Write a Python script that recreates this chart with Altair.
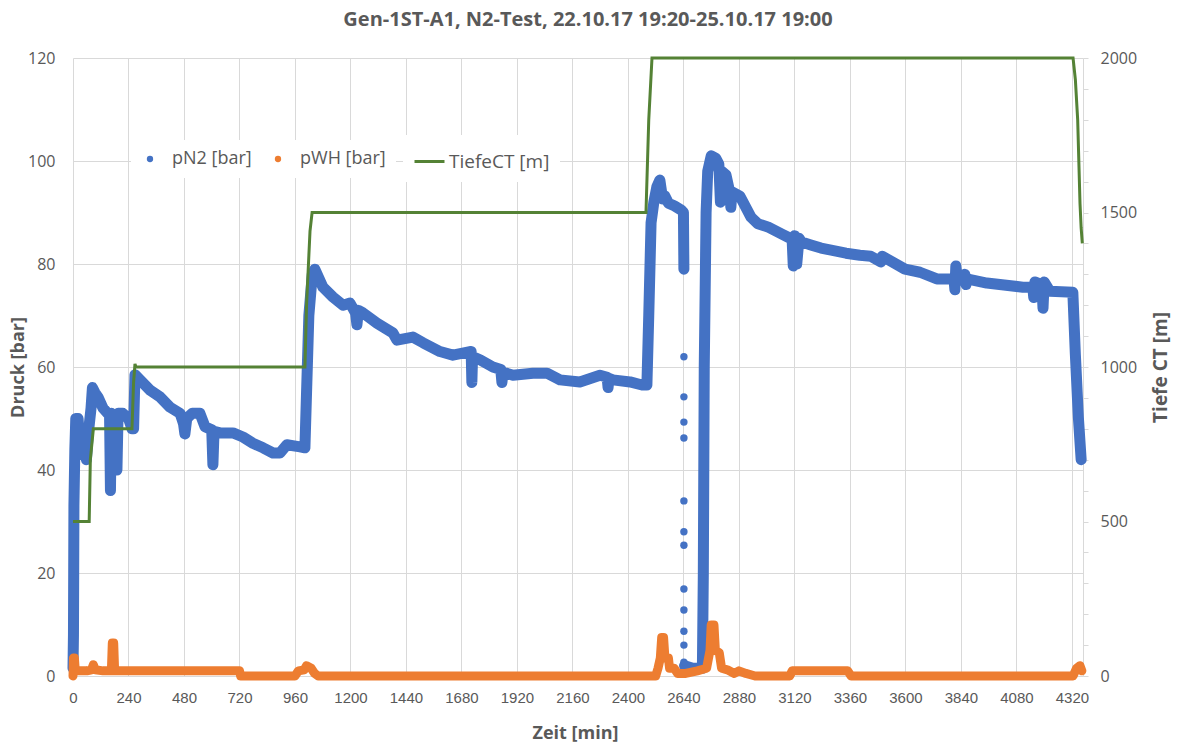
import altair as alt
import pandas as pd

BLUE = "#4472C4"
ORANGE = "#ED7D31"
GREEN = "#548235"
GRID = "#D9D9D9"
TXT = "#595959"

# pN2 [bar] - first continuous stretch (time in min, pressure in bar)
pn2a_t = [0, 2, 3, 4, 8, 12, 22, 28, 35, 42, 50, 58, 66, 78, 84, 95, 110, 130, 150, 158, 162, 166,
          185, 190, 195, 215, 240, 255, 262, 268, 290, 333, 376, 419, 463, 478, 484, 492, 515, 549,
          571, 600, 605, 610, 636, 692, 735, 778, 822, 865, 895, 925, 982, 1003, 1010, 1020, 1035,
          1046, 1081, 1124, 1168, 1198, 1222, 1228, 1234, 1254, 1315, 1384, 1401, 1470, 1514, 1587,
          1643, 1717, 1722, 1725, 1728, 1760, 1816, 1850, 1855, 1860, 1903, 1989, 2050, 2106, 2192,
          2279, 2310, 2314, 2318, 2335, 2409, 2461, 2482, 2490, 2500, 2512, 2525, 2538, 2550, 2560,
          2575, 2600, 2630, 2640, 2642]
pn2a_v = [1.5, 8, 20, 33, 44, 50, 50, 46, 43, 47, 44, 42, 47, 52, 56, 55, 54, 52, 51, 51, 36, 51,
          50, 40, 51, 51, 50, 48, 48, 58.5, 57.5, 55.5, 54.2, 52.2, 51, 49, 47, 50, 51, 51,
          48.4, 47.8, 41, 47.5, 47.2, 47.2, 46.4, 45.2, 44.3, 43.3, 43.3, 44.9, 44.5, 44.3, 55, 70, 78,
          79, 75.5, 73.6, 72, 72.4, 70.5, 68.2, 71, 70.5, 68.5, 66.6, 65.2, 65.8, 64.7, 63,
          62.3, 63, 63, 57, 62, 61.4, 60, 59.5, 57, 59, 58.4, 58.8, 58.8, 57.5, 57.1,
          58.4, 58, 56, 57.8, 57.5, 57.1, 56.5, 56.5, 70, 88, 92, 95, 96.3, 92.6, 93.2,
          91.8, 91.3, 90.5, 90, 79]

# pN2 [bar] - second continuous stretch
pn2b_t = [2645, 2680, 2722, 2726, 2730, 2738, 2745, 2760, 2780, 2793, 2800, 2806, 2824, 2840, 2845,
          2850, 2884, 2932, 2962, 3005, 3066, 3110, 3115, 3120, 3130, 3140, 3150, 3191, 3235, 3343,
          3403, 3450, 3494, 3500, 3598, 3663, 3736, 3810, 3814, 3818, 3825, 3857, 3862, 3866, 3952,
          4108, 4151, 4155, 4160, 4190, 4195, 4200, 4225, 4324, 4335, 4348, 4360]
pn2b_v = [2, 1.5, 1.5, 20, 60, 90, 98, 101, 100.5, 99.4, 92, 98, 97.3, 94, 91,
          94, 93.2, 89.1, 87.8, 87.2, 85.8, 84.8, 79.6, 85.5, 80, 85, 84.3, 83.7, 83.1, 82.1,
          81.7, 81.5, 80.4, 81.5, 79, 78.4, 77.1, 77.1, 75, 79.6, 77, 78, 76, 77.1, 76.3,
          75.5, 75.5, 73.5, 76.5, 76, 71.4, 76.5, 74.7, 74.5, 62.4, 50.2, 42]

# pN2 [bar] - isolated readings during the pressure drop near 2642 min
dots_t = [2642, 2642, 2642, 2642, 2642, 2642, 2642, 2642, 2642, 2642, 2642, 2642]
dots_v = [62, 54.2, 49.3, 46.2, 34, 28, 25.4, 16.9, 12.8, 8.7, 6, 2.7]

# pWH [bar]
pwh_t = [0, 2, 6, 10, 60, 80, 88, 96, 130, 166, 170, 176, 180, 240, 720, 725, 960, 975, 1000, 1010,
         1030, 1045, 1060, 2520, 2530, 2540, 2546, 2554, 2560, 2575, 2580, 2600, 2615, 2650, 2700,
         2740, 2755, 2760, 2772, 2778, 2795, 2805, 2830, 2860, 2880, 2910, 2950, 3100, 3110, 3350,
         3365, 4325, 4340, 4355, 4363]
pwh_v = [0, 3.5, 3.5, 1, 1, 1.2, 2.2, 1.2, 1, 1, 6.4, 6.4, 1, 1, 1, 0, 0, 1, 1.2, 2,
         1.5, 0.5, 0, 0, 1.5, 3.5, 7.5, 7.5, 3.5, 3.5, 1.5, 1.5, 0.5, 0.5, 1,
         1.5, 5, 9.9, 9.9, 5, 4.5, 1.5, 1.2, 0.5, 1, 0.5, 0, 0, 1, 1,
         0, 0, 1.5, 2, 1]

# TiefeCT [m]
ct_t = [0, 70, 75, 88, 255, 262, 268, 272, 1003, 1010, 1025, 1034, 2478, 2490, 2504, 4325, 4335,
        4345, 4355, 4360, 4365]
ct_v = [500, 500, 700, 800, 800, 950, 1010, 1000, 1000, 1200, 1440, 1500, 1500, 1800, 2000, 2000,
        1930, 1800, 1530, 1450, 1400]

x_ticks = list(range(0, 4321, 240))
left_ticks = [0, 20, 40, 60, 80, 100, 120]
right_ticks = list(range(0, 2001, 100))

pn2 = pd.DataFrame({
    "t": pn2a_t + pn2b_t,
    "v": pn2a_v + pn2b_v,
    "seg": ["a"] * len(pn2a_t) + ["b"] * len(pn2b_t),
})
dots = pd.DataFrame({"t": dots_t, "v": dots_v, "series": ["pN2 [bar]"] * len(dots_t)})
pwh = pd.DataFrame({"t": pwh_t, "v": pwh_v})
ct = pd.DataFrame({"t": ct_t, "d": ct_v, "series": ["TiefeCT [m]"] * len(ct_t)})

FONT = "Open Sans"

xscale = alt.Scale(domain=[0, 4368], nice=False, zero=False)
xaxis = alt.Axis(
    values=x_ticks, format="d", title="Zeit [min]", grid=True, gridColor=GRID, gridWidth=1,
    ticks=False, domainColor=GRID, labelFont="Liberation Sans", labelFontSize=15,
    labelColor=TXT, labelPadding=14, labelFlush=False, labelOverlap=False,
    titleFont=FONT, titleFontWeight="bold", titleFontSize=18, titleColor=TXT,
    titleX=502, titleY=57, titleBaseline="middle",
)
yscale_l = alt.Scale(domain=[0, 120], nice=False)
yaxis_l = alt.Axis(
    values=left_ticks, format="d", title="Druck [bar]", grid=True, gridColor=GRID, gridWidth=1,
    ticks=False, domain=False, labelFont=FONT, labelFontSize=16, labelColor=TXT, labelPadding=18,
    titleFont=FONT, titleFontWeight="bold", titleFontSize=18, titleColor=TXT,
    titleX=-55, titleY=309, titleAngle=270, titleBaseline="middle",
)
yscale_r = alt.Scale(domain=[0, 2000], nice=False)
yaxis_r = alt.Axis(
    orient="right", values=right_ticks, format="d",
    labelExpr="datum.value % 500 === 0 ? datum.label : ''",
    title="Tiefe CT [m]", grid=False, ticks=True, tickSize=5, tickColor=GRID, domainColor=GRID,
    labelFont=FONT, labelFontSize=16, labelColor=TXT, labelPadding=12,
    titleFont=FONT, titleFontWeight="bold", titleFontSize=19, titleColor=TXT,
    titleX=77, titleY=309, titleAngle=270, titleBaseline="middle",
)

X = alt.X("t:Q", scale=xscale, axis=xaxis)

pn2_line = alt.Chart(pn2).mark_line(
    color=BLUE, strokeWidth=11, strokeCap="round", strokeJoin="round"
).encode(
    x=X,
    y=alt.Y("v:Q", scale=yscale_l, axis=yaxis_l),
    detail="seg:N",
)

pn2_dots = alt.Chart(dots).mark_circle(size=55, opacity=1).encode(
    x=X,
    y=alt.Y("v:Q", scale=yscale_l, axis=yaxis_l),
    fill=alt.Fill(
        "series:N",
        scale=alt.Scale(domain=["pN2 [bar]", "pWH [bar]"], range=[BLUE, ORANGE]),
        legend=alt.Legend(
            title=None, orient="none", legendX=58, legendY=82, direction="horizontal",
            labelFont=FONT, labelFontSize=18, labelColor=TXT, labelLimit=400,
            symbolType="circle", symbolSize=40, symbolStrokeWidth=0, columnPadding=17,
            labelOffset=13, fillColor="white", padding=10,
        ),
    ),
)

pwh_line = alt.Chart(pwh).mark_line(
    color=ORANGE, strokeWidth=9, strokeCap="round", strokeJoin="round"
).encode(
    x=X,
    y=alt.Y("v:Q", scale=yscale_l, axis=yaxis_l),
)

left = alt.layer(pn2_line, pn2_dots, pwh_line)

ct_line = alt.Chart(ct).mark_line(strokeWidth=3).encode(
    x=X,
    y=alt.Y("d:Q", scale=yscale_r, axis=yaxis_r),
    stroke=alt.Stroke(
        "series:N",
        scale=alt.Scale(domain=["TiefeCT [m]"], range=[GREEN]),
        legend=alt.Legend(
            title=None, orient="none", legendX=330, legendY=77, direction="horizontal",
            labelFont=FONT, labelFontSize=19, labelColor=TXT, labelLimit=400,
            symbolType="stroke", symbolSize=900, symbolStrokeWidth=3, labelOffset=3,
            fillColor="white", padding=10,
        ),
    ),
)

chart = alt.layer(left, ct_line).resolve_scale(y="independent").properties(
    width=1010,
    height=618,
    autosize=alt.AutoSizeParams(type="none"),
    padding={"left": 73, "top": 58, "right": 95, "bottom": 68},
    background="white",
    title=alt.TitleParams(
        "Gen-1ST-A1, N2-Test, 22.10.17 19:20-25.10.17 19:00",
        font=FONT, fontSize=20, fontWeight="bold", color=TXT, anchor="middle", offset=20, dx=10,
    ),
).configure_view(stroke="transparent")

chart.save("out.html", embed_options={"renderer": "svg", "actions": False})
